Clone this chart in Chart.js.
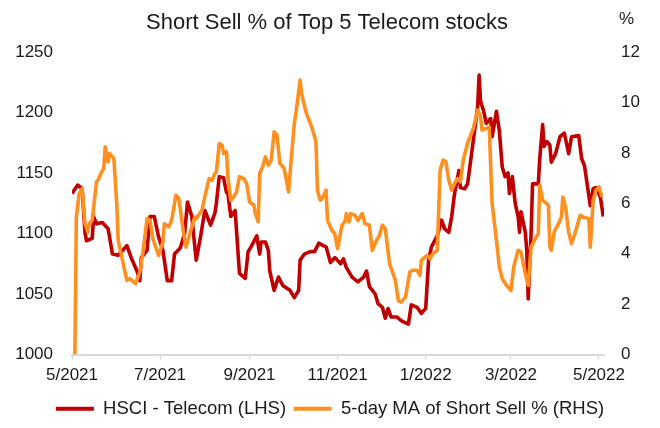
<!DOCTYPE html>
<html><head><meta charset="utf-8">
<script src="https://cdn.jsdelivr.net/npm/chart.js@4.4.0/dist/chart.umd.min.js"></script>
<style>html,body{margin:0;padding:0;background:#fff}#wrap{width:660px;height:428px;position:relative}</style>
</head><body><div id="wrap"><canvas id="c" width="660" height="428"></canvas></div>
<script>
const titleText = "Short Sell % of Top 5 Telecom stocks";
const rightUnit = "%";
const seriesNames = ["HSCI - Telecom (LHS)", "5-day MA of Short Sell % (RHS)"];
// days since 1 May 2021
const tickDays = [0, 61, 123, 184, 245, 304, 365];
const tickLabels = ["5/2021", "7/2021", "9/2021", "11/2021", "1/2022", "3/2022", "5/2022"];

const hsciDays = [0,4,7,9,10,14,15,17,21,25,28,32,35,38,41,45,47,48,52,54,57,60,63,66,69,71,75,78,80,83,86,89,92,96,99,100,102,105,107,108,110,113,116,120,122,124,128,130,131,134,136,137,140,143,146,151,154,157,158,161,165,168,171,174,176,179,182,183,186,188,190,194,198,202,204,206,210,212,215,217,219,221,225,228,233,235,239,242,245,247,249,253,256,258,261,263,265,268,269,272,274,278,281,282,283,285,287,290,291,294,296,298,300,302,303,305,307,309,310,311,314,315,316,318,319,323,324,326,327,329,331,332,335,338,341,343,344,346,351,353,355,359,361,363,366,368];
const hsciValues = [1133,1140,1137,1101,1094,1096,1114,1108,1109,1104,1083,1082,1086,1090,1080,1069,1061,1080,1086,1114,1114,1097,1086,1061,1061,1083,1088,1100,1126,1114,1078,1097,1119,1107,1117,1125,1147,1146,1134,1133,1114,1119,1067,1063,1085,1089,1098,1083,1093,1093,1086,1069,1053,1064,1057,1053,1047,1053,1078,1083,1085,1085,1092,1090,1089,1076,1080,1079,1075,1079,1072,1064,1060,1064,1069,1056,1050,1042,1039,1030,1038,1031,1031,1028,1025,1041,1039,1034,1038,1078,1089,1098,1111,1104,1101,1114,1133,1152,1138,1137,1141,1177,1205,1231,1209,1202,1191,1195,1180,1201,1185,1155,1147,1150,1133,1147,1125,1114,1101,1118,1101,1086,1046,1100,1141,1141,1162,1190,1172,1176,1173,1159,1166,1180,1183,1172,1166,1180,1181,1162,1156,1123,1137,1138,1130,1114];

const shortDays = [2,3,5,7,9,11,12,14,17,18,20,22,23,25,26,29,31,32,35,38,40,44,47,49,52,54,56,60,63,64,67,69,72,74,77,79,82,85,86,90,92,95,97,99,100,102,104,105,107,108,110,112,114,116,119,121,123,126,127,129,130,132,134,136,138,140,142,144,147,150,152,154,156,158,159,162,166,169,170,172,174,176,177,180,182,184,187,189,190,192,193,196,198,201,203,206,208,211,213,215,217,220,224,226,228,231,234,236,239,241,242,246,248,250,253,254,255,257,259,261,263,265,267,269,271,274,278,281,283,284,287,289,291,294,296,298,301,304,306,309,311,314,316,318,321,323,324,326,330,331,332,334,337,339,340,342,344,346,348,352,354,358,359,361,363,365,367];
const shortValues = [0,5.45,6.38,6.58,5.19,4.86,5.19,5.32,6.85,6.91,7.18,7.38,8.24,7.64,7.97,7.78,5.99,4.53,3.73,2.94,3.01,2.81,3.27,4.00,5.39,5.32,4.60,3.93,4.46,5.19,5.06,5.32,6.32,6.19,4.93,4.26,4.86,5.45,5.39,5.72,6.25,6.98,6.91,7.18,7.24,8.37,8.30,7.97,8.04,7.05,6.12,6.25,6.45,7.05,6.98,6.78,6.05,5.92,5.59,5.26,7.18,7.44,7.84,7.51,7.71,8.83,8.70,7.58,7.38,6.45,7.84,9.17,9.96,10.89,10.36,9.63,9.03,8.44,6.52,6.12,6.25,6.52,5.32,4.93,4.79,4.20,5.13,5.26,5.59,5.26,5.59,5.52,5.32,5.59,5.19,5.13,4.13,4.53,4.73,5.13,4.99,3.60,2.94,2.14,2.08,2.28,3.27,3.34,3.34,3.14,3.73,3.93,3.80,4.00,4.13,5.72,7.31,7.71,7.64,6.91,6.52,6.78,6.98,6.85,7.71,8.37,8.97,9.70,9.43,8.90,8.97,9.03,5.99,4.53,3.47,3.01,2.74,2.54,3.47,4.13,4.06,3.21,2.74,4.26,4.60,4.79,6.72,6.12,5.92,4.26,4.13,4.86,5.19,5.45,6.25,5.79,4.86,4.40,4.73,5.52,5.45,5.39,4.26,6.12,6.52,6.65,6.25];

const RED = '#C00000';
const ORANGE = '#FF8F1F';
const FONT = "'Liberation Sans', Arial, sans-serif";
const TXT = '#1a1a1a';

const titlePlugin = {
  id: 'titleUnit',
  afterDraw(chart) {
    const ctx = chart.ctx;
    ctx.save();
    ctx.fillStyle = TXT;
    ctx.textBaseline = 'middle';
    ctx.textAlign = 'center';
    ctx.font = "22px " + FONT;
    ctx.fillText(titleText, 327, 23);
    ctx.textAlign = 'left';
    ctx.font = "17px " + FONT;
    ctx.fillText(rightUnit, 619, 19);
    ctx.restore();
  }
};

new Chart(document.getElementById('c'), {
  type: 'line',
  data: {
    datasets: [
      { label: seriesNames[0], data: hsciDays.map((d, i) => ({x: d, y: hsciValues[i]})),
        borderColor: RED, backgroundColor: RED, borderWidth: 3.6, pointRadius: 0, tension: 0,
        yAxisID: 'y', order: 1, borderJoinStyle: 'round' },
      { label: seriesNames[1], data: shortDays.map((d, i) => ({x: d, y: shortValues[i]})),
        borderColor: ORANGE, backgroundColor: ORANGE, borderWidth: 3.6, pointRadius: 0, tension: 0,
        yAxisID: 'y1', order: 0, borderJoinStyle: 'round' }
    ]
  },
  options: {
    responsive: false, animation: false, devicePixelRatio: 1,
    layout: { padding: { top: 52, left: 0, right: 0, bottom: 0 } },
    plugins: {
      tooltip: { enabled: false },
      title: { display: false },
      legend: {
        position: 'bottom',
        labels: {
          font: { family: FONT, size: 18.5 }, color: TXT,
          boxWidth: 38, boxHeight: 4, padding: 7.6,
          generateLabels(chart) {
            return chart.data.datasets.map((ds, i) => ({
              text: ds.label, fillStyle: ds.borderColor, strokeStyle: ds.borderColor,
              lineWidth: 0, hidden: false, datasetIndex: i, fontColor: TXT
            }));
          }
        }
      }
    },
    scales: {
      x: {
        type: 'linear', min: 0, max: 368.5,
        afterBuildTicks(scale) { scale.ticks = tickDays.map(v => ({ value: v })); },
        ticks: {
          autoSkip: false, maxRotation: 0, padding: 6, color: TXT,
          font: { family: FONT, size: 17 },
          callback(value, index) { return tickLabels[index]; }
        },
        grid: { display: true, drawOnChartArea: false, drawTicks: true, tickLength: 5, tickColor: '#D9D9D9', tickWidth: 1.5 },
        border: { display: true, color: '#D9D9D9', width: 2 }
      },
      y: {
        position: 'left', min: 1000, max: 1250,
        afterFit(s) { s.width = 72; },
        ticks: { stepSize: 50, padding: 19, color: TXT, font: { family: FONT, size: 17 }, callback: v => String(v) },
        grid: { display: false, drawTicks: false }, border: { display: false }
      },
      y1: {
        position: 'right', min: 0, max: 12,
        afterFit(s) { s.width = 56; },
        ticks: { stepSize: 2, padding: 17, color: TXT, font: { family: FONT, size: 17 }, callback: v => String(v) },
        grid: { display: false, drawTicks: false }, border: { display: false }
      }
    }
  },
  plugins: [titlePlugin]
});
</script></body></html>
